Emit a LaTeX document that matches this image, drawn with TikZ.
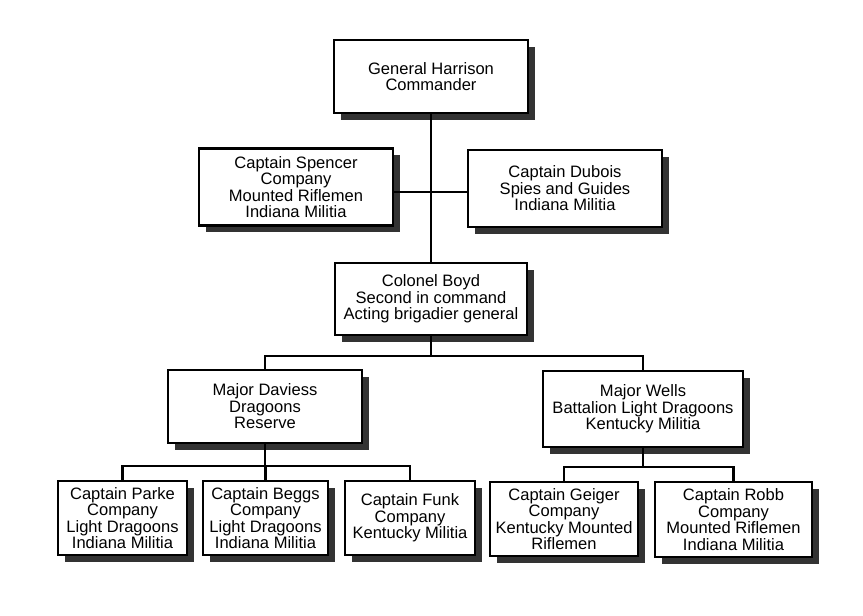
\documentclass[tikz,border=0pt]{standalone}
\usepackage{fontspec}
\setmainfont{Liberation Sans}
\usetikzlibrary{shadows}
\tikzset{
	unit/.style 2 args={draw, line width=1.7pt, fill=white, align=center, inner sep=2pt,
		minimum width=#1*0.75pt, minimum height=#2*0.75pt,
		font=\fontsize{12.4}{12.4}\selectfont,
		drop shadow={shadow xshift=5pt, shadow yshift=-5pt, fill=black!80, opacity=1}},
	link/.style={line width=1.7pt}
}

\begin{document}
\begin{tikzpicture}[x=0.75pt, y=-0.75pt]
			%%%%% START %%%%%
			\useasboundingbox (0, 0) rectangle (863, 615);
			
			\node[unit={194}{73}] (harrison) at (431, 76.5) {General Harrison\\Commander};
			
			\node[unit={194}{77}] (spencer) at (296, 187) {Captain Spencer\\Company\\Mounted Riflemen\\Indiana Militia};
			\node[unit={194}{77}] (dubois) at (565, 188.5) {Captain Dubois\\Spies and Guides\\Indiana Militia};
			
			\node[unit={192}{72}] (boyd) at (431, 299) {Colonel Boyd\\Second in command\\Acting brigadier general};
			
			\node[unit={194}{73}] (daviess) at (265, 406.5) {Major Daviess\\Dragoons\\Reserve};
			\node[unit={200}{76}] (wells) at (643, 409) {Major Wells\\Battalion Light Dragoons\\Kentucky Militia};
			
			\node[unit={129}{74}] (parke) at (122.5, 518) {Captain Parke\\Company\\Light Dragoons\\Indiana Militia};
			\node[unit={125}{74}] (beggs) at (265.5, 518) {Captain Beggs\\Company\\Light Dragoons\\Indiana Militia};
			\node[unit={130}{74}] (funk) at (410, 518) {Captain Funk\\Company\\Kentucky Militia};
			
			\node[unit={148}{74}] (geiger) at (564, 519) {Captain Geiger\\Company\\Kentucky Mounted\\Riflemen};
			\node[unit={157}{75}] (robb) at (733.5, 519.5) {Captain Robb\\Company\\Mounted Riflemen\\Indiana Militia};
			
			% lines
			\coordinate (staff) at (433, 192);
			\begin{scope}[on background layer/.try]
			\draw[link] (harrison.south) -- (boyd.north);
			\draw[link] (spencer.east |- staff) -- (dubois.west |- staff);
			\draw[link] (boyd.south) -- ++(0, 20) -| (daviess.north);
			\draw[link] (boyd.south) -- ++(0, 20) -| (wells.north);
			\draw[link] (daviess.south) -- ++(0, 22) -| (parke.north);
			\draw[link] (daviess.south) -- ++(0, 22) -| (beggs.north);
			\draw[link] (daviess.south) -- ++(0, 22) -| (funk.north);
			\draw[link] (wells.south) -- ++(0, 19) -| (geiger.north);
			\draw[link] (wells.south) -- ++(0, 19) -| (robb.north);
			\end{scope}
			
			%%%%% END %%%%%
\end{tikzpicture}
\end{document}
